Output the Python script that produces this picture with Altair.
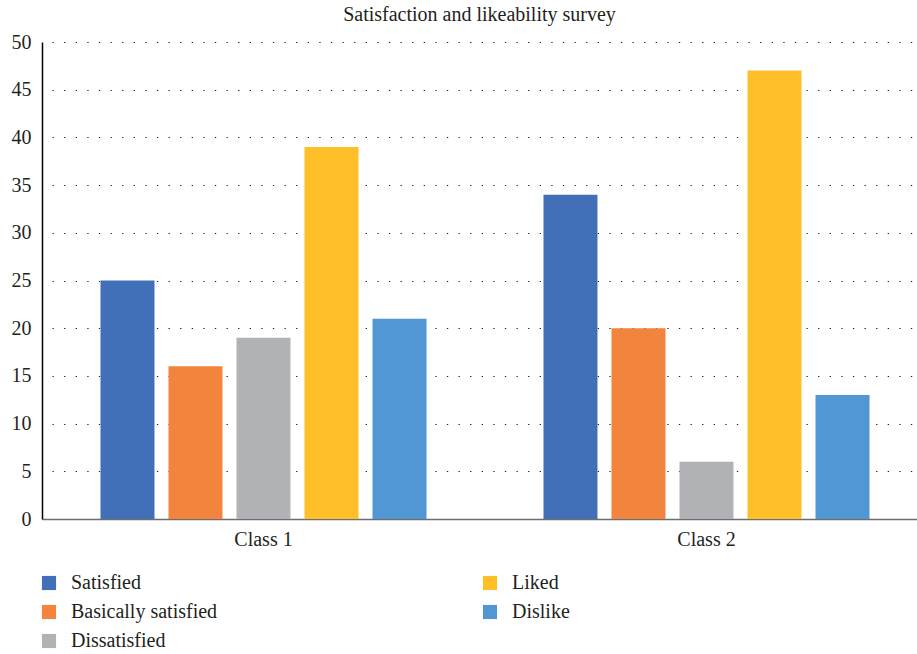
import altair as alt
import pandas as pd

classes = ["Class 1", "Class 2"]
categories = ["Satisfied", "Basically satisfied", "Dissatisfied", "Liked", "Dislike"]
class1_values = [25, 16, 19, 39, 21]
class2_values = [34, 20, 6, 47, 13]
colors = ["#4270B8", "#F2843D", "#B1B2B5", "#FEBF28", "#5097D3"]
y_ticks = [0, 5, 10, 15, 20, 25, 30, 35, 40, 45, 50]

rows = []
for cls, vals in zip(classes, [class1_values, class2_values]):
    for cat, v in zip(categories, vals):
        rows.append({"Class": cls, "Category": cat, "Value": v})
df = pd.DataFrame(rows)

FONT = "'Liberation Serif', 'Times New Roman', 'DejaVu Serif', serif"
TXT = "#231f20"

chart = alt.Chart(df).mark_bar().encode(
    x=alt.X("Class:N", sort=classes, title=None,
            scale=alt.Scale(range=[0, 886], paddingInner=0, paddingOuter=0),
            axis=alt.Axis(labelAngle=0, ticks=False, domainColor="#6d6e71", domainWidth=1.5,
                          labelFont=FONT, labelFontSize=20, labelColor=TXT, labelPadding=10)),
    xOffset=alt.XOffset("Category:N", sort=categories,
                        scale=alt.Scale(paddingInner=0.206, paddingOuter=0.86)),
    y=alt.Y("Value:Q", title=None,
            scale=alt.Scale(domain=[0, 50], nice=False),
            axis=alt.Axis(values=y_ticks, ticks=False, domainColor="#000000", domainWidth=1.5,
                          labelFont=FONT, labelFontSize=20, labelColor=TXT, labelPadding=11,
                          grid=True, gridColor="#231f20", gridDash=[1.3, 10.3], gridWidth=1.2,
                          gridDashOffset=-10)),
    color=alt.Color("Category:N",
                    scale=alt.Scale(domain=categories, range=colors),
                    legend=alt.Legend(title=None, orient="none", legendX=-3, legendY=531,
                                      columns=2, columnPadding=262, rowPadding=9,
                                      symbolType="square", symbolSize=200, symbolStrokeWidth=0,
                                      symbolOpacity=1,
                                      labelFont=FONT, labelFontSize=20, labelColor=TXT,
                                      labelOffset=12)),
).properties(
    width=875,
    height=477,
    autosize=alt.AutoSizeParams(type="none"),
    padding={"left": 42, "top": 42, "right": 0, "bottom": 135},
    title=alt.TitleParams("Satisfaction and likeability survey", font=FONT, fontSize=20,
                          fontWeight="normal", color=TXT, anchor="middle", offset=7),
).configure_view(stroke=None)

chart.save("out.html", embed_options={"renderer": "svg", "actions": False})
